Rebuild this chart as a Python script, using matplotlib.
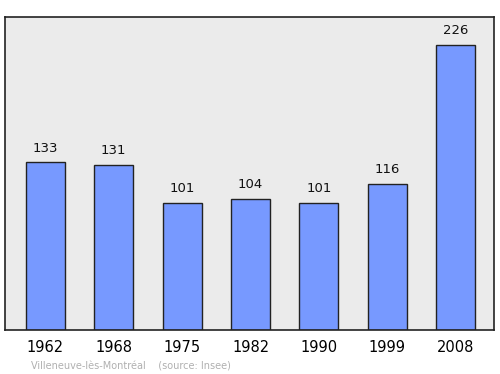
import matplotlib.pyplot as plt

years = ['1962', '1968', '1975', '1982', '1990', '1999', '2008']
population = [133, 131, 101, 104, 101, 116, 226]

fig = plt.figure(figsize=(5, 3.74), dpi=100)
ax = fig.add_axes([0.01, 0.1176, 0.978, 0.837])
ax.set_facecolor('#ebebeb')

x = range(len(years))
ax.bar(x, population, width=0.57, color='#7799ff', edgecolor='#222222', linewidth=1)

for i, v in zip(x, population):
    ax.text(i, v + 6, str(v), ha='center', va='bottom', fontsize=9.5, color='#111111')

ax.set_xlim(-0.59, 6.56)
ax.set_ylim(0, 248)
ax.set_yticks([])
ax.set_xticks(list(x))
ax.set_xticklabels(years, fontsize=10.5)
ax.tick_params(axis='x', length=0, pad=7)
for s in ax.spines.values():
    s.set_linewidth(1.2)
    s.set_color('#222222')

fig.text(0.062, 0.012, 'Villeneuve-lès-Montréal    (source: Insee)', fontsize=7, color='#b0b0b0')

fig.savefig('out.png', dpi=100)
